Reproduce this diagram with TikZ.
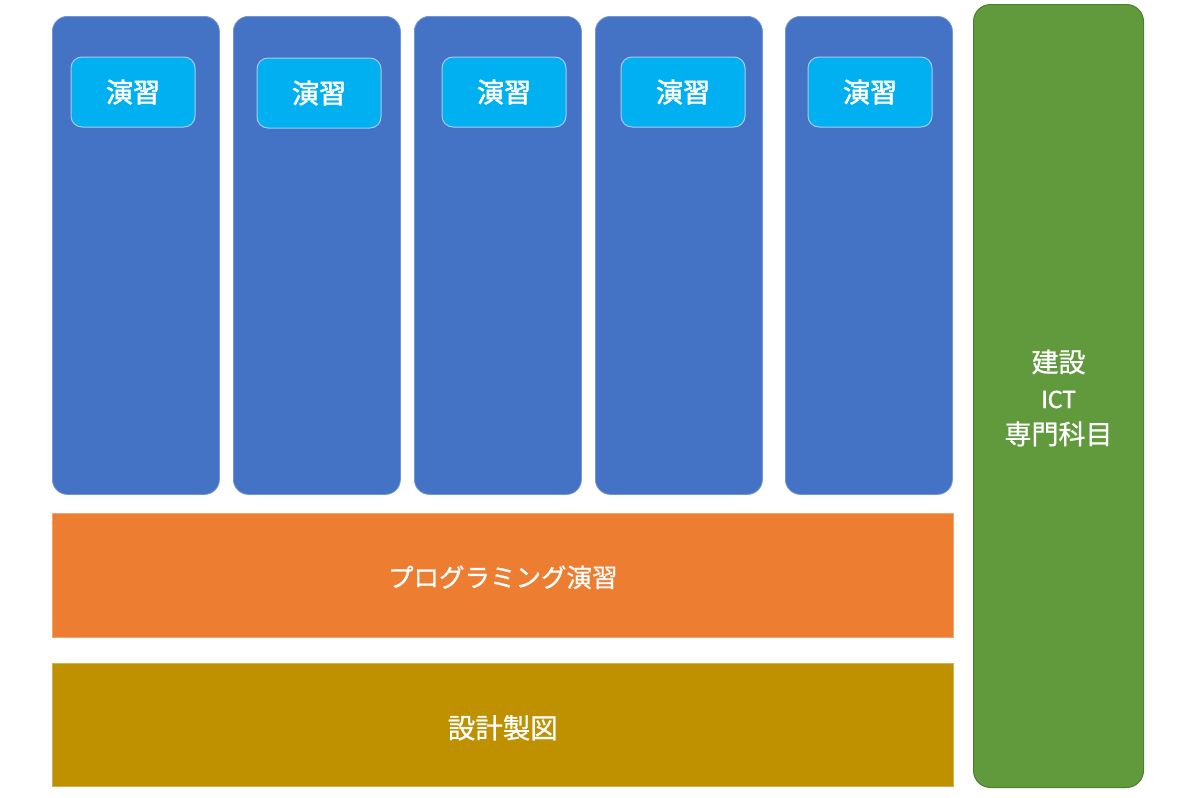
\documentclass[tikz,border=0pt]{standalone}
\usepackage{fontspec}
\setmainfont[FakeBold=0.8]{Noto Sans CJK JP}
\newfontfamily\heavycjk[FakeBold=2]{Noto Sans CJK JP}
\newfontfamily\latinfont[FakeBold=0.6]{Carlito}
\begin{document}
\begin{tikzpicture}[x=1pt,y=-1pt,
  colbox/.style={draw=colblue!75!white, fill=colblue, line width=0.8pt, rounded corners=15pt, inner sep=0pt, anchor=north west, minimum width=167pt, minimum height=478pt},
  exbox/.style={draw=exborder, fill=excyan, line width=1pt, rounded corners=11pt, inner sep=0pt, minimum width=124pt, minimum height=70pt, text=white, font=\heavycjk\fontsize{27}{30}\selectfont},
  band/.style={inner sep=0pt, anchor=north west, minimum width=901pt},
  lbl/.style={text=white, inner sep=0pt},
]
\definecolor{colblue}{HTML}{4472C4}
\definecolor{excyan}{HTML}{00B0F0}
\definecolor{exborder}{HTML}{A9CBEB}
\definecolor{orangeband}{HTML}{ED7D31}
\definecolor{goldband}{HTML}{BF9000}
\definecolor{greenbox}{HTML}{619A3C}
\definecolor{greenedge}{HTML}{4E7E30}
\useasboundingbox (0,0) rectangle (1200,798);
\fill[white] (0,0) rectangle (1200,798);

\node[colbox] (c1) at (52,16) {};
\node[colbox] (c2) at (233,16) {};
\node[colbox] (c3) at (414,16) {};
\node[colbox] (c4) at (595,16) {};
\node[colbox] (c5) at (785,16) {};

\node[exbox] (e1) at (133,92) {演習};
\node[exbox] (e2) at (319,93) {演習};
\node[exbox] (e3) at (504,92) {演習};
\node[exbox] (e4) at (683,92) {演習};
\node[exbox] (e5) at (870,92) {演習};

\node[band, fill=orangeband, draw=orangeband!70!white, line width=0.6pt, minimum height=124pt] (prog) at (52,513) {};
\node[lbl, font=\fontsize{25.5}{30}\selectfont] (progtext) at ([yshift=-2pt]prog.center) {プログラミング演習};
\node[band, fill=goldband, draw=goldband!70!white, line width=0.6pt, minimum height=123pt] (draw) at (52,663) {};
\node[lbl, font=\fontsize{27.5}{30}\selectfont] (drawtext) at ([yshift=-3pt]draw.center) {設計製図};

\node[draw=greenedge, fill=greenbox, line width=1pt, rounded corners=17pt, inner sep=0pt, anchor=north west, minimum width=170pt, minimum height=783pt] (ict) at (973,4) {};
\node[lbl, font=\fontsize{27}{36}\selectfont, align=center] (icttext) at ([yshift=-2pt]ict.center) {建設\\{\latinfont ICT}\\専門科目};
\end{tikzpicture}
\end{document}
